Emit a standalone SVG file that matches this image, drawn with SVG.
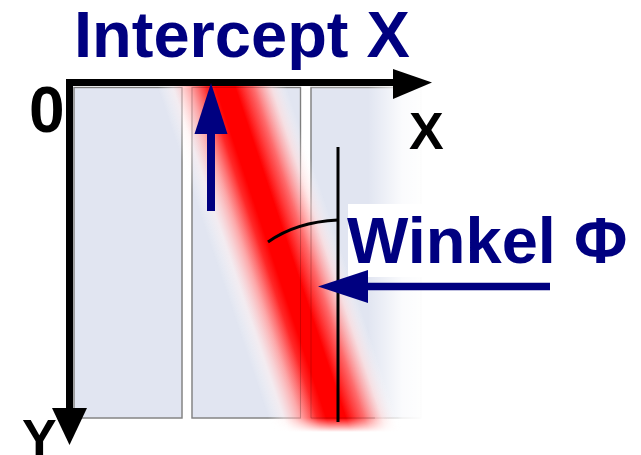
<svg xmlns="http://www.w3.org/2000/svg" width="641" height="455" viewBox="0 0 641 455">
  <style>
    .panel { fill: #e1e5f1; stroke: #9a9a9a; stroke-width: 1.5; }
    .panelEdge { fill: none; stroke: #000; stroke-opacity: 0.18; stroke-width: 1; }
    .axis { stroke: #000; stroke-width: 7; fill: none; }
    .axisHead { fill: #000; }
    .blue { fill: #000080; }
    .blueLine { stroke: #000080; fill: none; }
    .lblBlue { font-family: "Liberation Sans", Arial, sans-serif; font-weight: bold; fill: #000080; }
    .lblBlack { font-family: "Liberation Sans", Arial, sans-serif; font-weight: bold; fill: #000; }
  </style>
  <defs>
    <linearGradient id="bandGrad" x1="0" y1="0" x2="1" y2="0">
      <stop offset="0" stop-color="#ffffff" stop-opacity="0"/>
      <stop offset="0.12" stop-color="#fff0f0" stop-opacity="0.6"/>
      <stop offset="0.25" stop-color="#ffa0a0" stop-opacity="0.9"/>
      <stop offset="0.38" stop-color="#ff2828"/>
      <stop offset="0.45" stop-color="#ff0000"/>
      <stop offset="0.6" stop-color="#ff0000"/>
      <stop offset="0.74" stop-color="#ff6464" stop-opacity="0.95"/>
      <stop offset="0.88" stop-color="#ffdcdc" stop-opacity="0.7"/>
      <stop offset="1" stop-color="#ffffff" stop-opacity="0"/>
    </linearGradient>
    <linearGradient id="fadeRight" x1="0" y1="0" x2="1" y2="0">
      <stop offset="0" stop-color="#ffffff" stop-opacity="0"/>
      <stop offset="0.6" stop-color="#ffffff" stop-opacity="0.85"/>
      <stop offset="1" stop-color="#ffffff" stop-opacity="1"/>
    </linearGradient>
    <linearGradient id="maskGrad" gradientUnits="userSpaceOnUse" x1="0" y1="82" x2="0" y2="432">
      <stop offset="0" stop-color="#fff"/>
      <stop offset="0.96" stop-color="#fff"/>
      <stop offset="1" stop-color="#000"/>
    </linearGradient>
    <mask id="bandMask" maskUnits="userSpaceOnUse" x="0" y="0" width="641" height="455">
      <rect x="0" y="82" width="641" height="350" fill="url(#maskGrad)"/>
    </mask>
  </defs>

  <g id="panels">
    <rect id="panel1" class="panel" x="74" y="87.5" width="108" height="330.5"/>
    <rect id="panel2" class="panel" x="192" y="87.5" width="108.5" height="330.5"/>
    <rect id="panel3" class="panel" x="311" y="87.5" width="110" height="330.5"/>
    <rect id="fade" x="368" y="84" width="57" height="340" fill="url(#fadeRight)"/>
  </g>

  <g id="band" mask="url(#bandMask)">
    <g transform="skewX(18.5)">
      <rect x="128" y="82" width="130" height="350" fill="url(#bandGrad)"/>
    </g>
  </g>

  <g id="panelEdges">
    <rect class="panelEdge" x="74" y="87.5" width="108" height="330.5"/>
    <rect class="panelEdge" x="192" y="87.5" width="108.5" height="330.5"/>
    <path class="panelEdge" d="M311,87.5 V418 H375"/>
  </g>

  <g id="winkel-label">
    <rect x="348" y="204" width="280" height="73" fill="#ffffff"/>
    <text class="lblBlue" x="347" y="263" font-size="65">Winkel Φ</text>
  </g>

  <g id="intercept-label">
    <text class="lblBlue" x="74" y="57" font-size="65">Intercept X</text>
  </g>

  <g id="label-0">
    <text class="lblBlack" x="29" y="132" font-size="64">0</text>
  </g>
  <g id="label-x">
    <text class="lblBlack" x="409" y="149" font-size="52">X</text>
  </g>
  <g id="label-y">
    <text class="lblBlack" x="22" y="456" font-size="52">Y</text>
  </g>

  <g id="connectors">
    <line x1="338" y1="147" x2="338" y2="422" stroke="#000" stroke-width="3"/>
    <path d="M268,242 Q296,222 338,220" fill="none" stroke="#000" stroke-width="3"/>
    <line class="axis" x1="66" y1="82.5" x2="396" y2="82.5"/>
    <polygon class="axisHead" points="393,69 432,82.5 393,99"/>
    <line class="axis" x1="69.5" y1="79" x2="69.5" y2="410"/>
    <polygon class="axisHead" points="52,408 87,408 69.5,445"/>
    <line class="blueLine" x1="211" y1="130" x2="211" y2="211" stroke-width="8"/>
    <polygon class="blue" points="211,83 227.5,134 194.5,134"/>
    <line class="blueLine" x1="364" y1="286.5" x2="550" y2="286.5" stroke-width="7.5"/>
    <polygon class="blue" points="318,286.5 368,270 368,303"/>
  </g>
</svg>
